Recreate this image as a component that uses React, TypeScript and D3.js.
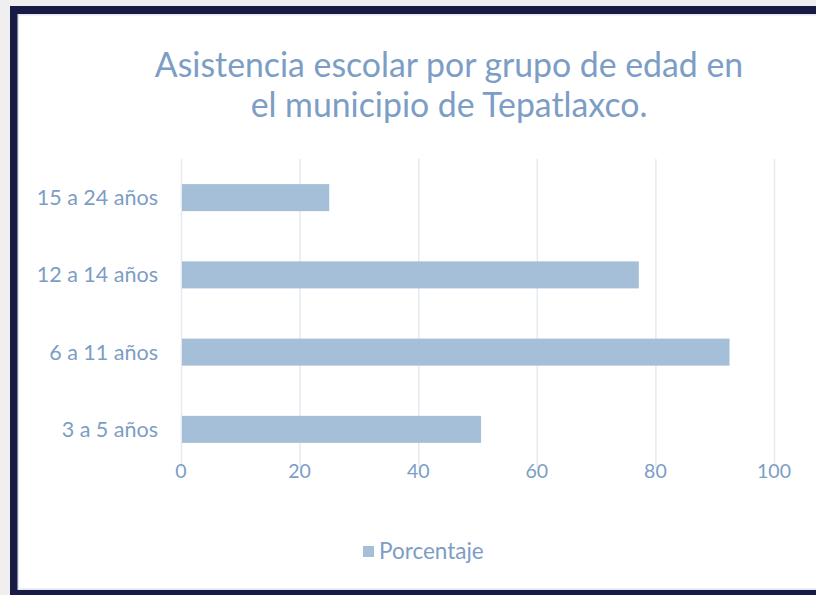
import React, { useEffect, useRef } from 'react'
import * as d3 from 'd3'

const categories = ['15 a 24 años', '12 a 14 años', '6 a 11 años', '3 a 5 años']
const porcentaje = [25.0, 77.2, 92.5, 50.6]
const xTicks = [0, 20, 40, 60, 80, 100]
const titleLines = ['Asistencia escolar por grupo de edad en', 'el municipio de Tepatlaxco.']
const seriesName = 'Porcentaje'

const W = 816
const H = 595
const FONT = 'Lato, "Open Sans", sans-serif'
const TEXT = '#7c9dc5'
const BAR = '#a6bfd9'
const GRID = '#e5eaf1'
const NAVY = '#1a1a46'

export default function App() {
    const svgRef = useRef<SVGSVGElement | null>(null)

    useEffect(() => {
        const svg = d3.select(svgRef.current)
        svg.selectAll('*').remove()

        // frame
        svg.append('rect').attr('width', W).attr('height', H).attr('fill', '#efefef')
        svg.append('rect').attr('x', 10).attr('y', 6).attr('width', W - 10).attr('height', H - 6).attr('fill', NAVY)
        svg.append('rect').attr('x', 17.5).attr('y', 14).attr('width', W - 17.5).attr('height', 576).attr('fill', '#dfe6f0')
        svg.append('rect').attr('x', 19).attr('y', 15.5).attr('width', W - 19).attr('height', 573).attr('fill', '#ffffff')

        const x = d3.scaleLinear().domain([0, 100]).range([181, 774])
        const y = d3.scaleBand<string>()
            .domain(categories)
            .range([159, 468])
            .paddingInner(0.65)
            .paddingOuter(0.325)

        // title
        svg.append('g')
            .selectAll('text')
            .data(titleLines)
            .enter()
            .append('text')
            .attr('x', 449)
            .attr('y', (d, i) => 77 + i * 40)
            .attr('text-anchor', 'middle')
            .attr('font-family', FONT)
            .attr('font-size', 33.8)
            .attr('fill', TEXT)
            .text((d) => d)

        // grid
        svg.append('g')
            .selectAll('line')
            .data(xTicks)
            .enter()
            .append('line')
            .attr('x1', (d) => x(d) + 0.5)
            .attr('x2', (d) => x(d) + 0.5)
            .attr('y1', 159)
            .attr('y2', 468)
            .attr('stroke', GRID)
            .attr('stroke-width', 1.5)

        // bars
        svg.append('g')
            .selectAll('rect')
            .data(categories)
            .enter()
            .append('rect')
            .attr('x', x(0) + 1)
            .attr('y', (d) => y(d) as number)
            .attr('width', (d, i) => x(porcentaje[i]) - x(0) - 1)
            .attr('height', y.bandwidth())
            .attr('fill', BAR)

        // y labels
        svg.append('g')
            .selectAll('text')
            .data(categories)
            .enter()
            .append('text')
            .attr('x', 158)
            .attr('y', (d) => (y(d) as number) + y.bandwidth() / 2)
            .attr('dy', '0.35em')
            .attr('text-anchor', 'end')
            .attr('font-family', FONT)
            .attr('font-size', 21.5)
            .attr('fill', TEXT)
            .text((d) => d)

        // x labels
        svg.append('g')
            .selectAll('text')
            .data(xTicks)
            .enter()
            .append('text')
            .attr('x', (d) => x(d))
            .attr('y', 478)
            .attr('text-anchor', 'middle')
            .attr('font-family', FONT)
            .attr('font-size', 19.5)
            .attr('fill', TEXT)
            .text((d) => d)

        // legend
        const legend = svg.append('g')
        legend.append('rect')
            .attr('x', 363)
            .attr('y', 546)
            .attr('width', 11)
            .attr('height', 11)
            .attr('fill', BAR)
        legend.append('text')
            .attr('x', 379)
            .attr('y', 559)
            .attr('font-family', FONT)
            .attr('font-size', 22.5)
            .attr('fill', TEXT)
            .text(seriesName)
    }, [])

    return (
        <svg
            ref={svgRef}
            width={W}
            height={H}
            style={{ position: 'absolute', left: 0, top: 0, display: 'block' }}
        />
    )
}
